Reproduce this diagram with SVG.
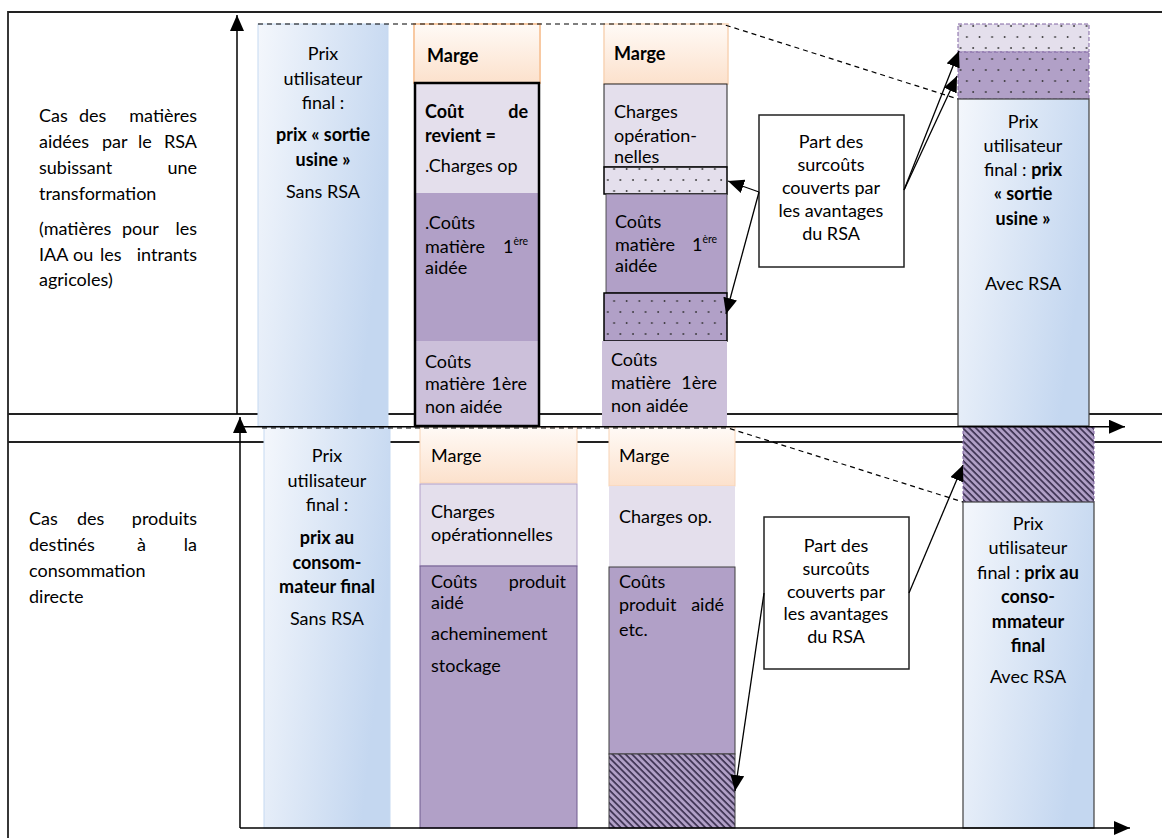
<svg xmlns="http://www.w3.org/2000/svg" width="1162" height="838" viewBox="0 0 1162 838">
<style>
.t{font-family:Lato,"Open Sans","Liberation Sans",sans-serif;font-size:18px;fill:#000}
.b{font-weight:bold}
.m{text-anchor:middle}
.e{text-anchor:end}
.sup{font-size:10.5px}
.frame{fill:none;stroke:#222;stroke-width:1.8}
.axis{fill:none;stroke:#000;stroke-width:1.5}
.dash{fill:none;stroke:#000;stroke-width:1.2;stroke-dasharray:5 4}
.arr{fill:none;stroke:#000;stroke-width:1.3;marker-end:url(#ah)}
.lav{fill:#e4dfec}
.pur{fill:#b1a0c7}
.med{fill:#ccc0da}
.box{fill:#fff;stroke:#222;stroke-width:1.5}
</style>
<defs>
<linearGradient id="blue" x1="0" y1="0" x2="1" y2="0.35">
<stop offset="0" stop-color="#f4f7fc"/>
<stop offset="1" stop-color="#c4d7f0"/>
</linearGradient>
<linearGradient id="peach" x1="0" y1="0" x2="0" y2="1">
<stop offset="0" stop-color="#fffaf6"/>
<stop offset="1" stop-color="#fce1cc"/>
</linearGradient>
<pattern id="dotsL" width="12.6" height="22" patternUnits="userSpaceOnUse">
<rect width="12.6" height="22" fill="#e4dfec"/>
<circle cx="3" cy="4" r="0.9" fill="#333"/>
<circle cx="9.3" cy="15" r="0.9" fill="#333"/>
</pattern>
<pattern id="dotsP" width="12.6" height="22" patternUnits="userSpaceOnUse">
<rect width="12.6" height="22" fill="#b1a0c7"/>
<circle cx="3" cy="4" r="0.9" fill="#333"/>
<circle cx="9.3" cy="15" r="0.9" fill="#333"/>
</pattern>
<pattern id="hatch" width="4.6" height="4.6" patternUnits="userSpaceOnUse" patternTransform="rotate(-45)">
<rect width="4.6" height="4.6" fill="#b1a0c7"/>
<line x1="1" y1="0" x2="1" y2="4.6" stroke="#3b3050" stroke-width="1.7"/>
</pattern>
<marker id="ah" viewBox="0 0 16 14" refX="16" refY="7" markerWidth="16" markerHeight="14" markerUnits="userSpaceOnUse" orient="auto">
<path d="M0,0 L16,7 L0,14 z" fill="#000"/>
</marker>
</defs>

<g id="frame">
<path class="frame" d="M8,838 V12 H1162"/>
<path class="frame" d="M8,414 H1162"/>
<path class="frame" d="M8,442 H1162"/>
</g>

<g id="label-top">
<text class="t" y="122"><tspan x="39">Cas</tspan><tspan x="79">des</tspan><tspan x="197" text-anchor="end">matières</tspan></text>
<text class="t" y="148"><tspan x="39">aidées</tspan><tspan x="102">par</tspan><tspan x="138">le</tspan><tspan x="197" text-anchor="end">RSA</tspan></text>
<text class="t" y="174"><tspan x="39">subissant</tspan><tspan x="197" text-anchor="end">une</tspan></text>
<text class="t" x="39" y="200">transformation</text>
<text class="t" y="235"><tspan x="39">(matières</tspan><tspan x="122">pour</tspan><tspan x="197" text-anchor="end">les</tspan></text>
<text class="t" y="261"><tspan x="39">IAA</tspan><tspan x="73">ou</tspan><tspan x="100">les</tspan><tspan x="197" text-anchor="end">intrants</tspan></text>
<text class="t" x="39" y="286">agricoles)</text>
</g>

<g id="label-bottom">
<text class="t" y="525"><tspan x="29">Cas</tspan><tspan x="77">des</tspan><tspan x="197" text-anchor="end">produits</tspan></text>
<text class="t" y="551"><tspan x="29">destinés</tspan><tspan x="137">à</tspan><tspan x="197" text-anchor="end">la</tspan></text>
<text class="t" x="29" y="577">consommation</text>
<text class="t" x="29" y="603">directe</text>
</g>

<g id="top-sans-rsa">
<rect x="258" y="24" width="130" height="402" fill="url(#blue)" stroke="#c6d9f1" stroke-width="1"/>
<text class="t m" x="323" y="60">Prix</text>
<text class="t m" x="323" y="85">utilisateur</text>
<text class="t m" x="323" y="109">final :</text>
<text class="t m b" x="323" y="141">prix « sortie</text>
<text class="t m b" x="323" y="166">usine »</text>
<text class="t m" x="323" y="198">Sans RSA</text>
</g>

<g id="top-cout-revient">
<rect x="414" y="24" width="126" height="59" fill="url(#peach)" stroke="#f8c9a2" stroke-width="2"/>
<text class="t b" x="427" y="62">Marge</text>
<rect class="lav" x="415" y="83" width="124" height="110"/>
<rect class="pur" x="415" y="193" width="124" height="148"/>
<rect class="med" x="415" y="341" width="124" height="85"/>
<rect x="415" y="83" width="124" height="343" fill="none" stroke="#000" stroke-width="2.5"/>
<text class="t b" y="118"><tspan x="425">Coût</tspan><tspan x="528" text-anchor="end">de</tspan></text>
<text class="t b" x="425" y="142">revient =</text>
<text class="t" x="425" y="172">.Charges op</text>
<text class="t" x="425" y="229">.Coûts</text>
<text class="t" y="253"><tspan x="425">matière</tspan><tspan x="503">1</tspan><tspan class="sup" dy="-8">ère</tspan></text>
<text class="t" x="425" y="274">aidée</text>
<text class="t" x="425" y="368">Coûts</text>
<text class="t" y="390"><tspan x="425">matière</tspan><tspan x="527" text-anchor="end">1ère</tspan></text>
<text class="t" x="425" y="413">non aidée</text>
</g>

<g id="top-avec-detail">
<rect x="604" y="24" width="124" height="60" fill="url(#peach)" stroke="#f8d3b5" stroke-width="1.5"/>
<text class="t b" x="614" y="60">Marge</text>
<rect class="lav" x="604" y="84" width="123" height="83" stroke="#222" stroke-width="1"/>
<text class="t" x="614" y="118">Charges</text>
<text class="t" x="614" y="142">opération-</text>
<text class="t" x="614" y="163">nelles</text>
<rect x="604" y="167" width="123" height="27" fill="url(#dotsL)" stroke="#000" stroke-width="1.5"/>
<rect class="pur" x="606" y="194" width="121" height="99" stroke="#333" stroke-width="0.8"/>
<text class="t" x="615" y="228">Coûts</text>
<text class="t" y="251"><tspan x="615">matière</tspan><tspan x="692">1</tspan><tspan class="sup" dy="-8">ère</tspan></text>
<text class="t" x="615" y="272">aidée</text>
<rect x="604" y="293" width="123" height="48" fill="url(#dotsP)" stroke="#000" stroke-width="1.5"/>
<rect class="med" x="602" y="341" width="125" height="85"/>
<text class="t" x="611" y="366">Coûts</text>
<text class="t" y="389"><tspan x="611">matière</tspan><tspan x="717" text-anchor="end">1ère</tspan></text>
<text class="t" x="611" y="412">non aidée</text>
</g>

<g id="top-note">
<rect class="box" x="759" y="115" width="145" height="152"/>
<text class="t m" x="831" y="148">Part des</text>
<text class="t m" x="831" y="171">surcoûts</text>
<text class="t m" x="831" y="194">couverts par</text>
<text class="t m" x="831" y="217">les avantages</text>
<text class="t m" x="831" y="240">du RSA</text>
</g>

<g id="top-avec-rsa">
<rect x="958" y="24" width="131" height="28" fill="url(#dotsL)" stroke="#8064a2" stroke-width="1" stroke-dasharray="4 2"/>
<rect x="958" y="52" width="131" height="47" fill="url(#dotsP)" stroke="#8064a2" stroke-width="1" stroke-dasharray="4 2"/>
<rect x="958" y="99" width="131" height="327" fill="url(#blue)" stroke="#404040" stroke-width="1.2"/>
<text class="t m" x="1023" y="128">Prix</text>
<text class="t m" x="1023" y="152">utilisateur</text>
<text class="t m" x="1023" y="176">final : <tspan class="b">prix</tspan></text>
<text class="t m b" x="1023" y="200">« sortie</text>
<text class="t m b" x="1023" y="225">usine »</text>
<text class="t m" x="1023" y="290">Avec RSA</text>
</g>

<g id="bottom-sans-rsa">
<rect x="264" y="427" width="126" height="401" fill="url(#blue)" stroke="#c6d9f1" stroke-width="1"/>
<text class="t m" x="327" y="462">Prix</text>
<text class="t m" x="327" y="487">utilisateur</text>
<text class="t m" x="327" y="511">final :</text>
<text class="t m b" x="327" y="544">prix au</text>
<text class="t m b" x="327" y="569">consom-</text>
<text class="t m b" x="327" y="593">mateur final</text>
<text class="t m" x="327" y="625">Sans RSA</text>
</g>

<g id="bottom-couts">
<rect x="420" y="427" width="157" height="56" fill="url(#peach)" stroke="#f8d3b5" stroke-width="1"/>
<text class="t" x="431" y="462">Marge</text>
<rect class="lav" x="420" y="484" width="157" height="82" stroke="#b1a0c7" stroke-width="1"/>
<text class="t" x="431" y="518">Charges</text>
<text class="t" x="431" y="541">opérationnelles</text>
<rect class="pur" x="420" y="566" width="157" height="262" stroke="#6f5a8e" stroke-width="1"/>
<text class="t" y="588"><tspan x="431">Coûts</tspan><tspan x="566" text-anchor="end">produit</tspan></text>
<text class="t" x="431" y="609">aidé</text>
<text class="t" x="431" y="640">acheminement</text>
<text class="t" x="431" y="672">stockage</text>
</g>

<g id="bottom-avec-detail">
<rect x="609" y="427" width="126" height="59" fill="url(#peach)" stroke="#f8d3b5" stroke-width="1"/>
<text class="t" x="619" y="462">Marge</text>
<rect class="lav" x="609" y="486" width="126" height="81"/>
<text class="t" x="619" y="523">Charges op.</text>
<rect class="pur" x="609" y="567" width="126" height="187" stroke="#3f3f3f" stroke-width="1"/>
<text class="t" x="619" y="588">Coûts</text>
<text class="t" y="611"><tspan x="619">produit</tspan><tspan x="724" text-anchor="end">aidé</tspan></text>
<text class="t" x="619" y="636">etc.</text>
<rect x="609" y="754" width="126" height="74" fill="url(#hatch)" stroke="#3f3f3f" stroke-width="1"/>
</g>

<g id="bottom-note">
<rect class="box" x="764" y="517" width="145" height="152"/>
<text class="t m" x="836" y="552">Part des</text>
<text class="t m" x="836" y="575">surcoûts</text>
<text class="t m" x="836" y="598">couverts par</text>
<text class="t m" x="836" y="620">les avantages</text>
<text class="t m" x="836" y="643">du RSA</text>
</g>

<g id="bottom-avec-rsa">
<rect x="963" y="427" width="131" height="75" fill="url(#hatch)" stroke="#8064a2" stroke-width="1" stroke-dasharray="3 2"/>
<rect x="963" y="502" width="131" height="326" fill="url(#blue)" stroke="#404040" stroke-width="1.2"/>
<text class="t m" x="1028" y="530">Prix</text>
<text class="t m" x="1028" y="554">utilisateur</text>
<text class="t m" x="1028" y="579">final : <tspan class="b">prix au</tspan></text>
<text class="t m b" x="1028" y="603">conso-</text>
<text class="t m b" x="1028" y="628">mmateur</text>
<text class="t m b" x="1028" y="652">final</text>
<text class="t m" x="1028" y="683">Avec RSA</text>
</g>

<g id="connectors">
<path class="dash" d="M258,24 H722 L958,99"/>
<path class="dash" d="M262,428 H728 L963,502"/>
<path class="axis" d="M237,414 V15" marker-end="url(#ah)"/>
<path class="axis" d="M243,426.7 H1125" marker-end="url(#ah)"/>
<path class="axis" d="M240,828 V417" marker-end="url(#ah)"/>
<path class="axis" d="M240,828 H1130" marker-end="url(#ah)"/>
<path class="arr" d="M759,192 L728,181"/>
<path class="arr" d="M759,192 L726,314"/>
<path class="arr" d="M904,190 L959,51"/>
<path class="arr" d="M904,190 L957,76"/>
<path class="arr" d="M764,593 L735,791"/>
<path class="arr" d="M909,593 L963,465"/>
</g>
</svg>
